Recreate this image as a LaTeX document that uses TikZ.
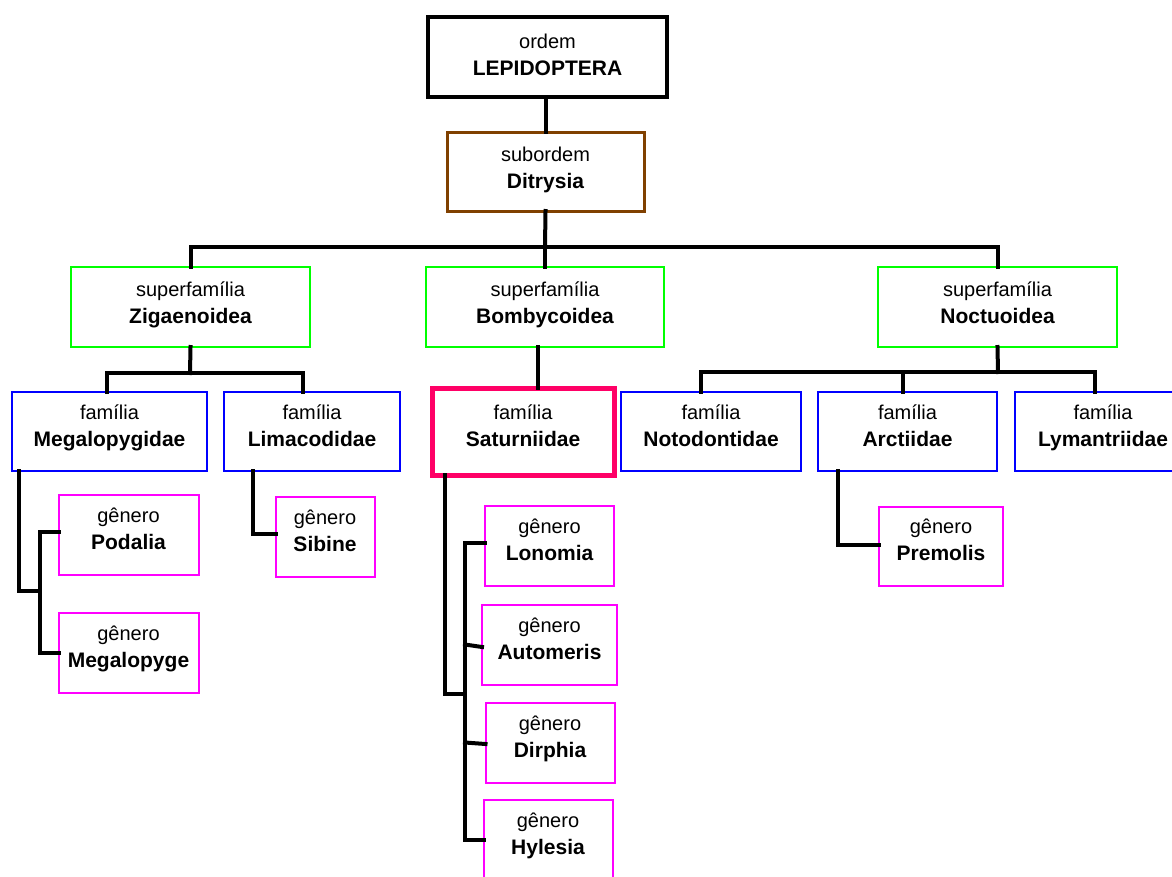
\documentclass[tikz,border=0pt]{standalone}
\usepackage{fontspec}
\setmainfont{Liberation Sans}
\definecolor{brownb}{RGB}{128,64,0}
\definecolor{greenb}{RGB}{0,255,0}
\definecolor{blueb}{RGB}{0,0,255}
\definecolor{satb}{RGB}{255,0,102}
\definecolor{genb}{RGB}{255,0,255}
% box node plus its centred two-line text node
\newcommand\taxbox[6]{%
  \node[#1] (#2) at (#3) {};
  \node[txt] (#2-t) at ([yshift=#4]#2.center) {#5\\{\fontsize{21}{27}\selectfont\bfseries #6\strut}};}
\begin{document}
\begin{tikzpicture}[x=1pt,y=-1pt,
  lvl/.style={draw, outer sep=0pt, inner sep=0pt, fill=white},
  txt/.style={inner sep=0pt, align=center, font=\fontsize{20}{27}\selectfont},
  ordbox/.style={lvl, line width=4pt, draw=black},
  subbox/.style={lvl, line width=3pt, draw=brownb},
  supbox/.style={lvl, line width=2pt, draw=greenb, minimum width=239pt, minimum height=80pt},
  fambox/.style={lvl, line width=2pt, draw=blueb, minimum height=79pt},
  satbox/.style={lvl, line width=5pt, draw=satb},
  genbox/.style={lvl, line width=2pt, draw=genb, minimum height=80pt},
  conn/.style={line width=4pt, black, line cap=rect, line join=miter}]
\useasboundingbox (0,0) rectangle (1172,876);
\fill[white] (0,0) rectangle (1172,876);
\clip (0,0) rectangle (1172,876);

% nodes
\taxbox{ordbox, minimum width=239pt, minimum height=80pt}{lep}{547.5,57}{-2pt}{ordem}{LEPIDOPTERA}
\taxbox{subbox, minimum width=197pt, minimum height=79pt}{dit}{545.5,171.5}{0pt}{subordem}{Ditrysia}

\taxbox{supbox}{zig}{190.5,307}{0pt}{superfamília}{Zigaenoidea}
\taxbox{supbox, minimum width=238pt}{bomb}{545,307}{0pt}{superfamília}{Bombycoidea}
\taxbox{supbox}{noct}{997.5,307}{0pt}{superfamília}{Noctuoidea}

\taxbox{fambox, minimum width=195pt}{meg}{109.5,431.5}{2pt}{família}{Megalopygidae}
\taxbox{fambox, minimum width=176pt}{lim}{312,431.5}{2pt}{família}{Limacodidae}
\taxbox{satbox, minimum width=182pt, minimum height=87pt}{sat}{523,431.5}{2pt}{família}{Saturniidae}
\taxbox{fambox, minimum width=180pt}{not}{711,431.5}{2pt}{família}{Notodontidae}
\taxbox{fambox, minimum width=179pt}{arc}{907.5,431.5}{2pt}{família}{Arctiidae}
\taxbox{fambox, minimum width=176pt}{lym}{1103,431.5}{2pt}{família}{Lymantriidae}

\taxbox{genbox, minimum width=140pt}{pod}{128.5,535}{2pt}{gênero}{Podalia}
\taxbox{genbox, minimum width=140pt}{megp}{128.5,652.5}{2pt}{gênero}{Megalopyge}
\taxbox{genbox, minimum width=99pt}{sib}{325,536.5}{2pt}{gênero}{Sibine}

\taxbox{genbox, minimum width=129pt}{lon}{549.5,546}{2pt}{gênero}{Lonomia}
\taxbox{genbox, minimum width=135pt}{aut}{549.5,644.5}{2pt}{gênero}{Automeris}
\taxbox{genbox, minimum width=129pt}{dir}{550,742.5}{2pt}{gênero}{Dirphia}
\taxbox{genbox, minimum width=129pt}{hyl}{548,840}{2pt}{gênero}{Hylesia}

\taxbox{genbox, minimum width=124pt, minimum height=79pt}{pre}{941,546}{2pt}{gênero}{Premolis}

% junction coordinates
\coordinate (j1) at (545,247);
\coordinate (j2) at (190,373);
\coordinate (nbar) at (998,372);
\coordinate (zl) at ([xshift=-2.5pt]meg.north);
\coordinate (zr) at ([xshift=-9pt]lim.north);
\coordinate (nl) at ([xshift=-10pt]not.north);
\coordinate (nm) at ([xshift=-4.5pt]arc.north);
\coordinate (nr) at ([xshift=-8pt]lym.north);
\coordinate (mg) at ([xshift=-90.5pt]meg.south);
\coordinate (mgb) at (40,591);
\coordinate (lg) at ([xshift=-59pt]lim.south);
\coordinate (sg) at ([xshift=-78pt]sat.south);
\coordinate (sb) at (465,694);
\coordinate (ag) at ([xshift=-69.5pt]arc.south);

% connectors
\draw[conn] (lep.south -| dit.north) -- (dit.north);
\draw[conn] (dit.south) -- (j1);
\draw[conn] (zig.north) |- (noct.north |- j1) -- (noct.north);
\draw[conn] (bomb.north) -- (bomb.north |- j1);

\draw[conn] (zig.south) -- (j2);
\draw[conn] (zl) |- (zr |- j2) -- (zr);

\draw[conn] ([xshift=-7pt]bomb.south) -- ([xshift=15pt]sat.north);

\draw[conn] (noct.south) -- (nbar);
\draw[conn] (nl) |- (nr |- nbar) -- (nr);
\draw[conn] (nm) -- (nm |- nbar);

\draw[conn] (mg) |- (mgb);
\draw[conn] ([yshift=3pt]pod.west) -| (mgb) |- (megp.west);

\draw[conn] (lg) |- ([yshift=2.5pt]sib.west);

\draw[conn] (sg) |- (sb);
\draw[conn] ([yshift=3pt]lon.west) -| (sb |- hyl.west) -- (hyl.west);
\draw[conn] ([yshift=-2.5pt]aut.west) -- (aut.west -| sb);
\draw[conn] ([yshift=-1.5pt]dir.west) -- (dir.west -| sb);

\draw[conn] (ag) |- ([yshift=1pt]pre.west);
\end{tikzpicture}
\end{document}
